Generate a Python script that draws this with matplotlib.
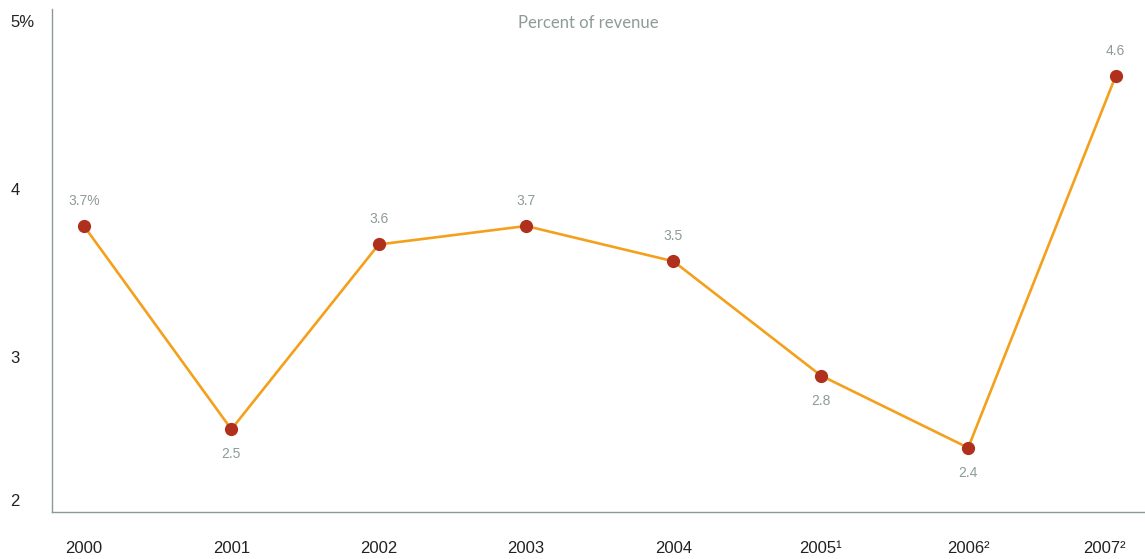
import matplotlib.pyplot as plt
import matplotlib.transforms as mtransforms

## Data
years = ['2000', '2001', '2002', '2003', '2004', '2005¹', '2006²', '2007²']
values = [3.70, 2.49, 3.59, 3.70, 3.49, 2.81, 2.38, 4.59]
point_labels = ['3.7%', '2.5', '3.6', '3.7', '3.5', '2.8', '2.4', '4.6']
label_above = [True, False, True, True, True, False, False, True]
y_ticks = [2, 3, 4, 5]
y_tick_labels = ['2', '3', '4', '5%']

line_color = '#F4A01C'
dot_color = '#B0301E'
grey = '#8E9B97'
spine_color = '#8A9A95'

fig = plt.figure(figsize=(11.45, 5.59), dpi=100)
ax = fig.add_axes([52 / 1145, 47.4 / 559, 1093 / 1145, 504 / 559])

x = list(range(len(years)))
ax.plot(x, values, '-', color=line_color, lw=1.9, zorder=2)
ax.plot(x, values, 'o', color=dot_color, ms=8.5, zorder=3)

# value labels above or below each point
for xi, v, lab, up in zip(x, values, point_labels, label_above):
    ax.annotate(lab, (xi, v), xytext=(0, 18 if up else -18), textcoords='offset points',
                ha='center', va='center', fontsize=10, color=grey, family='Liberation Sans')

ax.set_xlim(-0.217, 7.2)
ax.set_ylim(2, 5)

ax.set_xticks(x)
ax.set_xticklabels(years, family='Liberation Sans', fontsize=12, color='#222222')
ax.set_yticks(y_ticks)
ax.set_yticklabels(y_tick_labels, family='Liberation Sans', fontsize=12, color='#222222', ha='left')
ax.tick_params(axis='x', length=0, pad=21)
ax.tick_params(axis='y', length=0, pad=30)

# nudge y tick labels like the original layout
for val, t in zip(y_ticks, ax.get_yticklabels()):
    dy = 8 / 72 if val == 2 else -10 / 72
    t.set_transform(t.get_transform() + mtransforms.ScaledTranslation(0, dy, fig.dpi_scale_trans))
# last year label sits a bit left of its point
last = ax.get_xticklabels()[-1]
last.set_transform(last.get_transform() + mtransforms.ScaledTranslation(-8 / 72, 0, fig.dpi_scale_trans))

for side in ['top', 'right']:
    ax.spines[side].set_visible(False)
for side in ['left', 'bottom']:
    ax.spines[side].set_color(spine_color)
    ax.spines[side].set_linewidth(1.0)
ax.spines['left'].set_bounds(2, 4.99)

ax.text(0.491, 0.97, 'Percent of revenue', transform=ax.transAxes, ha='center', va='center',
        fontsize=12, color=grey, family='Lato')

fig.savefig('out.png', dpi=100)
